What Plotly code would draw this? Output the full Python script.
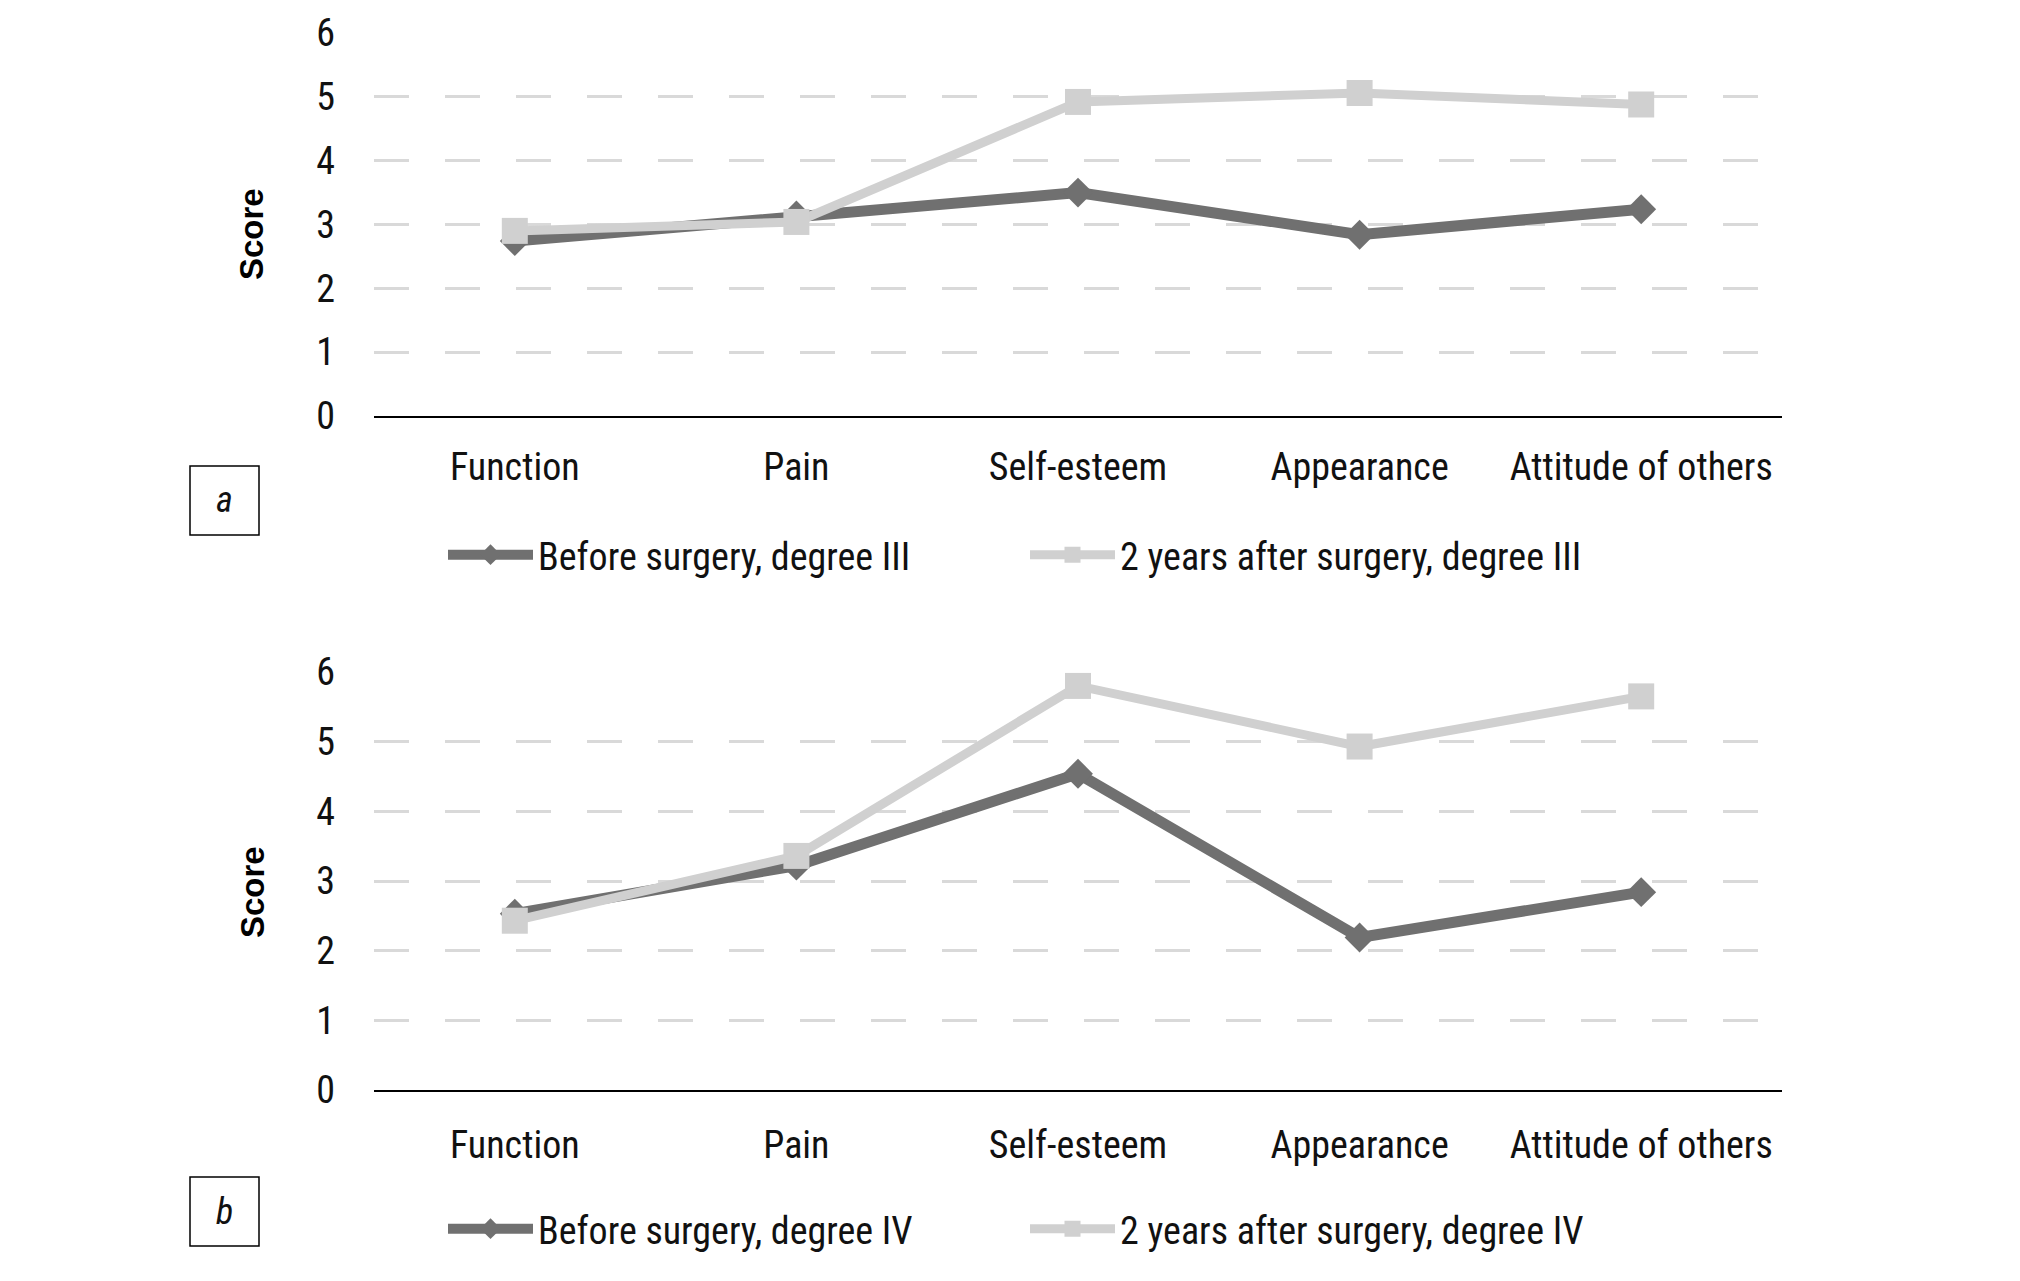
import plotly.graph_objects as go

categories = ["Function", "Pain", "Self-esteem", "Appearance", "Attitude of others"]
before_III = [2.74, 3.14, 3.50, 2.84, 3.24]
after_III = [2.90, 3.04, 4.92, 5.06, 4.88]
before_IV = [2.53, 3.22, 4.54, 2.19, 2.84]
after_IV = [2.43, 3.36, 5.80, 4.93, 5.65]
y_ticks = [0, 1, 2, 3, 4, 5, 6]

# page has an 8px body margin; figure fits the 2020x1281 window inside it
OFF = 8
W, H = 2020 - 2 * OFF, 1281 - 2 * OFF
FONT = "Liberation Sans Narrow, Roboto Condensed, Roboto, DejaVu Sans Condensed, sans-serif"
DARK = "#707070"
LIGHT = "#d0d0d0"


def px(x):
    return (x - OFF) / W


def py(y):
    return 1 - (y - OFF) / H


fig = go.Figure()

panels = [
    dict(before=before_III, after=after_III, names=("Before surgery, degree III", "2 years after surgery, degree III"),
         xa="x", ya="y", legends=("legend", "legend3"), top=33, bottom=416, label_pad=16, leg_y=555,
         box=(466, 535), letter="a", score_y=234),
    dict(before=before_IV, after=after_IV, names=("Before surgery, degree IV", "2 years after surgery, degree IV"),
         xa="x2", ya="y2", legends=("legend2", "legend4"), top=672, bottom=1090, label_pad=20, leg_y=1229,
         box=(1177, 1246), letter="b", score_y=892),
]

for p in panels:
    fig.add_trace(go.Scatter(
        x=categories, y=p["before"], name=p["names"][0], mode="lines+markers",
        line=dict(color=DARK, width=11),
        marker=dict(symbol="diamond", size=23, color=DARK),
        xaxis=p["xa"], yaxis=p["ya"], legend=p["legends"][0],
    ))
    fig.add_trace(go.Scatter(
        x=categories, y=p["after"], name=p["names"][1], mode="lines+markers",
        line=dict(color=LIGHT, width=9),
        marker=dict(symbol="square", size=26, color=LIGHT),
        xaxis=p["xa"], yaxis=p["ya"], legend=p["legends"][1],
    ))

xdom = [px(374), px(1782)]
axis_common_x = dict(
    domain=xdom, type="category", range=[-0.5, len(categories) - 0.5], showgrid=False,
    showline=True, linecolor="#000000", linewidth=2, automargin=False,
    ticks="", tickfont=dict(family=FONT, size=38, color="#111111"), zeroline=False, fixedrange=True,
)
axis_common_y = dict(
    range=[0, 6], tickvals=y_ticks, showgrid=True, gridcolor="#d9d9d9", gridwidth=3, griddash="35px,36px",
    showline=False, zeroline=False, ticks="", tickfont=dict(family=FONT, size=38, color="#111111"),
    ticklabelstandoff=38, ticklabeloverflow="allow", fixedrange=True, automargin=False,
)

p1, p2 = panels
fig.update_layout(
    xaxis=dict(**axis_common_x, anchor="y", ticklabelstandoff=p1["label_pad"]),
    yaxis=dict(**axis_common_y, domain=[py(p1["bottom"]), py(p1["top"])], anchor="x"),
    xaxis2=dict(**axis_common_x, anchor="y2", ticklabelstandoff=p2["label_pad"]),
    yaxis2=dict(**axis_common_y, domain=[py(p2["bottom"]), py(p2["top"])], anchor="x2"),
)

legend_common = dict(
    orientation="h", xanchor="left", yanchor="middle",
    font=dict(family=FONT, size=38, color="#111111"), bgcolor="rgba(0,0,0,0)",
    itemwidth=85, itemclick=False, itemdoubleclick=False,
)
fig.update_layout(
    legend=dict(**legend_common, x=px(443), y=py(p1["leg_y"])),
    legend3=dict(**legend_common, x=px(1025), y=py(p1["leg_y"])),
    legend2=dict(**legend_common, x=px(443), y=py(p2["leg_y"])),
    legend4=dict(**legend_common, x=px(1025), y=py(p2["leg_y"])),
)

shapes = []
annotations = []
for p in panels:
    y0, y1 = p["box"]
    shapes.append(dict(type="rect", xref="paper", yref="paper", x0=px(190), x1=px(259), y0=py(y1), y1=py(y0),
                       line=dict(color="#000000", width=1.5), fillcolor="rgba(0,0,0,0)"))
    annotations.append(dict(text="<i>" + p["letter"] + "</i>", xref="paper", yref="paper",
                            x=px(224.5), y=py((y0 + y1) / 2), showarrow=False, xanchor="center", yanchor="middle",
                            font=dict(family=FONT, size=36, color="#111111")))
    annotations.append(dict(text="<b>Score</b>", xref="paper", yref="paper", textangle=-90,
                            x=px(252), y=py(p["score_y"]), showarrow=False, xanchor="center", yanchor="middle",
                            font=dict(family="Liberation Sans, Arial, sans-serif", size=33, color="#000000")))

fig.update_layout(
    width=W, height=H, margin=dict(l=0, r=0, t=0, b=0, autoexpand=False),
    paper_bgcolor="#ffffff", plot_bgcolor="#ffffff",
    shapes=shapes, annotations=annotations, showlegend=True,
)

fig.write_html("out.html", config={"displayModeBar": False})
